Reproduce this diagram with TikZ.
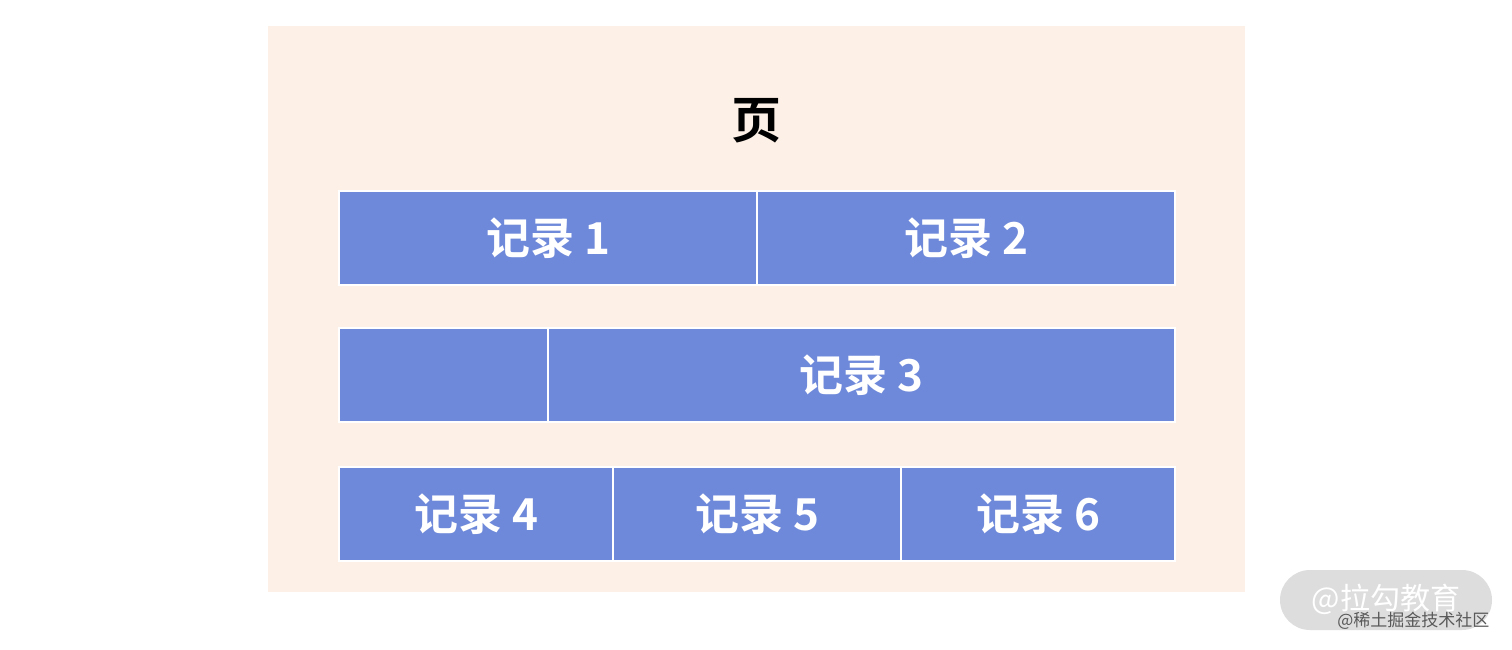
\documentclass[tikz,border=0pt]{standalone}
\usepackage{fontspec}
\newfontfamily\cjk{Noto Sans CJK SC}
\newfontfamily\cjkb{Noto Sans CJK SC Bold}
\definecolor{pagebg}{HTML}{FDF0E6}
\definecolor{recblue}{HTML}{6E89DA}
\definecolor{wmgray}{HTML}{DADADA}
\begin{document}
\begin{tikzpicture}[x=1pt,y=-1pt,
  rec/.style={draw=white,line width=2pt,fill=recblue,inner sep=0pt,
    font=\cjkb\fontsize{44}{46}\selectfont,text=white}]
\useasboundingbox (0,0) rectangle (1512,650);
\fill[white] (0,0) rectangle (1512,650);
\node[fill=pagebg,minimum width=977pt,minimum height=566pt,anchor=north west,inner sep=0pt] (page) at (268,26) {};
\node[font=\cjkb\fontsize{50}{52}\selectfont] (title) at (756,121) {页};
% row 1
\node[rec,minimum width=418pt,minimum height=94pt,anchor=north west] (r1) at (338,190) {记录 1};
\node[rec,minimum width=418pt,minimum height=94pt,anchor=north west] (r2) at (756,190) {记录 2};
% row 2
\node[rec,minimum width=209pt,minimum height=94pt,anchor=north west] (free) at (338,327) {};
\node[rec,minimum width=627pt,minimum height=94pt,anchor=north west] (r3) at (547,327) {记录 3};
% row 3
\node[rec,minimum width=274pt,minimum height=94pt,anchor=north west] (r4) at (338,466) {记录 4};
\node[rec,minimum width=288pt,minimum height=94pt,anchor=north west] (r5) at (612,466) {记录 5};
\node[rec,minimum width=274pt,minimum height=94pt,anchor=north west] (r6) at (900,466) {记录 6};
% watermark
\node[fill=wmgray,opacity=0.9,rounded corners=30pt,minimum width=212pt,minimum height=60pt,inner sep=0pt] (wm) at (1386,600) {};
\node[text=white,font=\cjk\fontsize{30}{32}\selectfont] (wmt) at (1386,599) {@拉勾教育};
\node[text=black!65,font=\cjk\fontsize{17}{18}\selectfont,anchor=east] (wms) at (1493,621) {@稀土掘金技术社区};
\end{tikzpicture}
\end{document}
